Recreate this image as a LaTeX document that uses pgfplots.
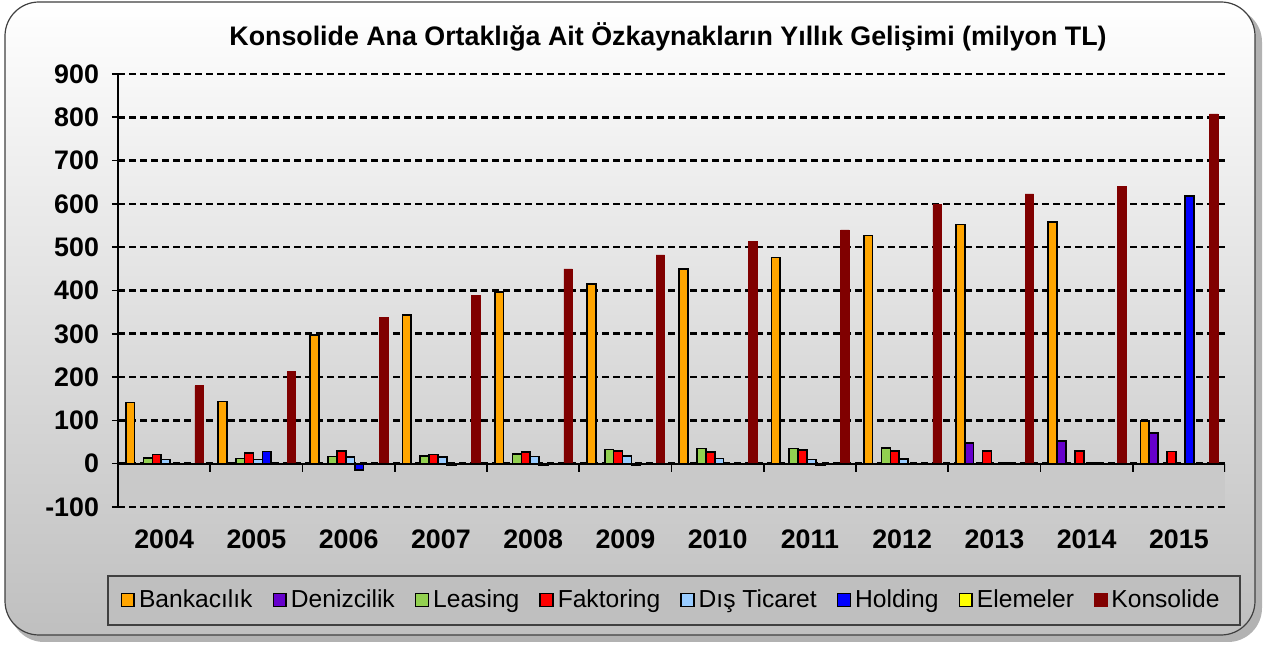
\documentclass[border=0pt]{standalone}
\usepackage{pgfplots}
\pgfplotsset{compat=1.18}
\usepackage{fontspec}
\setmainfont{Liberation Sans}
\definecolor{cBank}{HTML}{FFA500}
\definecolor{cDeniz}{HTML}{6600CC}
\definecolor{cLeas}{HTML}{92D050}
\definecolor{cFakt}{HTML}{FF0000}
\definecolor{cDis}{HTML}{99CCFF}
\definecolor{cHold}{HTML}{0000FF}
\definecolor{cElem}{HTML}{FFFF00}
\definecolor{cKons}{HTML}{800000}
\begin{document}
\begin{tikzpicture}
\begin{scope}[x=0.5pt,y=-0.5pt]
\path (0,0) rectangle (1270,646);
\fill[black,opacity=0.3,rounded corners=17pt] (10,8) rectangle (1262,642);
\shadedraw[top color=white, bottom color=black!25, rounded corners=17pt, draw=black!75, line width=0.6pt] (5,2) rectangle (1255,635);
\fill[black!21] (118,464) rectangle (1225,507);
\filldraw[fill=black!25, draw=black!75, line width=0.6pt] (108,576) rectangle (1240,625);
\node[font=\bfseries\fontsize{13.4}{16}\selectfont] at (668,37) {Konsolide Ana Ortaklığa Ait Özkaynakların Yıllık Gelişimi (milyon TL)};
\end{scope}
\begin{axis}[at={(59pt,-253.5pt)}, anchor=south west, scale only axis,
  width=553.5pt, height=216.5pt,
  xmin=-0.5, xmax=11.5, ymin=-100, ymax=900,
  axis y line=left, axis x line=bottom,
  axis line style={-},
  x axis line style={draw=none},
  y axis line style={line width=1pt},
  ytick={-100,0,100,200,300,400,500,600,700,800,900},
  yticklabels={-100,0,100,200,300,400,500,600,700,800,900},
  xtick={0,...,11},
  xticklabels={2004,2005,2006,2007,2008,2009,2010,2011,2012,2013,2014,2015},
  x tick style={draw=none},
  y tick style={line width=0.8pt, black},
  tick align=outside, major tick length=3pt,
  ymajorgrids,
  grid style={dash pattern=on 3.5pt off 2pt, line width=1.3pt, black},
  ticklabel style={font=\bfseries\fontsize{13.4}{16}\selectfont},
  yticklabel style={xshift=-3pt},
  xticklabel style={yshift=-5pt},
  ybar, bar width=4.4pt,
  legend columns=8,
  legend style={at={(0.5005,-0.2148)}, anchor=center, draw=none, fill=none,
    font=\fontsize{12.3}{15}\selectfont,
    /tikz/every even column/.append style={column sep=8pt}},
  sq/.style={legend image code/.code={\draw[##1] (0pt,-3.2pt) rectangle (6.4pt,3.2pt);}},
  every axis plot/.append style={line width=0.8pt},
]
\addplot[sq, fill=cBank, draw=black, bar shift=-17pt] coordinates {(0,141) (1,144) (2,297) (3,343) (4,396) (5,415) (6,449) (7,476) (8,527) (9,552) (10,558) (11,98)};
\addlegendentry{Bankacılık}
\addplot[sq, fill=cDeniz, draw=black, bar shift=-12.55pt] coordinates {(0,0) (1,0) (2,0) (3,0) (4,0) (5,0) (6,0) (7,0) (8,0) (9,48) (10,53) (11,71)};
\addlegendentry{Denizcilik}
\addplot[sq, fill=cLeas, draw=black, bar shift=-8.1pt] coordinates {(0,13) (1,12) (2,17) (3,18) (4,23) (5,33) (6,35) (7,35) (8,36) (9,0) (10,0) (11,0)};
\addlegendentry{Leasing}
\addplot[sq, fill=cFakt, draw=black, bar shift=-3.65pt] coordinates {(0,21) (1,25) (2,30) (3,21) (4,27) (5,30) (6,27) (7,32) (8,29) (9,29) (10,29) (11,28)};
\addlegendentry{Faktoring}
\addplot[sq, fill=cDis, draw=black, bar shift=0.8pt] coordinates {(0,10) (1,10) (2,15) (3,15) (4,17) (5,18) (6,12) (7,10) (8,11) (9,0) (10,0) (11,0)};
\addlegendentry{Dış Ticaret}
\addplot[sq, fill=cHold, draw=black, bar shift=5.25pt] coordinates {(0,0) (1,28) (2,-15) (3,-4) (4,-3) (5,-4) (6,-2) (7,-4) (8,0) (9,1) (10,3) (11,618)};
\addlegendentry{Holding}
\addplot[sq, fill=cElem, draw=black, bar shift=9.7pt] coordinates {(0,0) (1,0) (2,0) (3,0) (4,0) (5,0) (6,0) (7,0) (8,0) (9,0) (10,0) (11,0)};
\addlegendentry{Elemeler}
\addplot[sq, fill=cKons, draw=cKons, line width=0.3pt, bar shift=17.5pt, bar width=4.2pt] coordinates {(0,180) (1,214) (2,337) (3,388) (4,450) (5,482) (6,513) (7,540) (8,598) (9,623) (10,640) (11,808)};
\addlegendentry{Konsolide}
\draw[line width=1pt, black] (axis cs:-0.5,0) -- (axis cs:11.5,0);
\draw[line width=0.8pt, black] (axis cs:0.5,0) -- ++(0pt,-4pt) (axis cs:1.5,0) -- ++(0pt,-4pt) (axis cs:2.5,0) -- ++(0pt,-4pt) (axis cs:3.5,0) -- ++(0pt,-4pt) (axis cs:4.5,0) -- ++(0pt,-4pt) (axis cs:5.5,0) -- ++(0pt,-4pt) (axis cs:6.5,0) -- ++(0pt,-4pt) (axis cs:7.5,0) -- ++(0pt,-4pt) (axis cs:8.5,0) -- ++(0pt,-4pt) (axis cs:9.5,0) -- ++(0pt,-4pt) (axis cs:10.5,0) -- ++(0pt,-4pt) (axis cs:11.5,0) -- ++(0pt,-4pt);
\end{axis}
\end{tikzpicture}
\end{document}
